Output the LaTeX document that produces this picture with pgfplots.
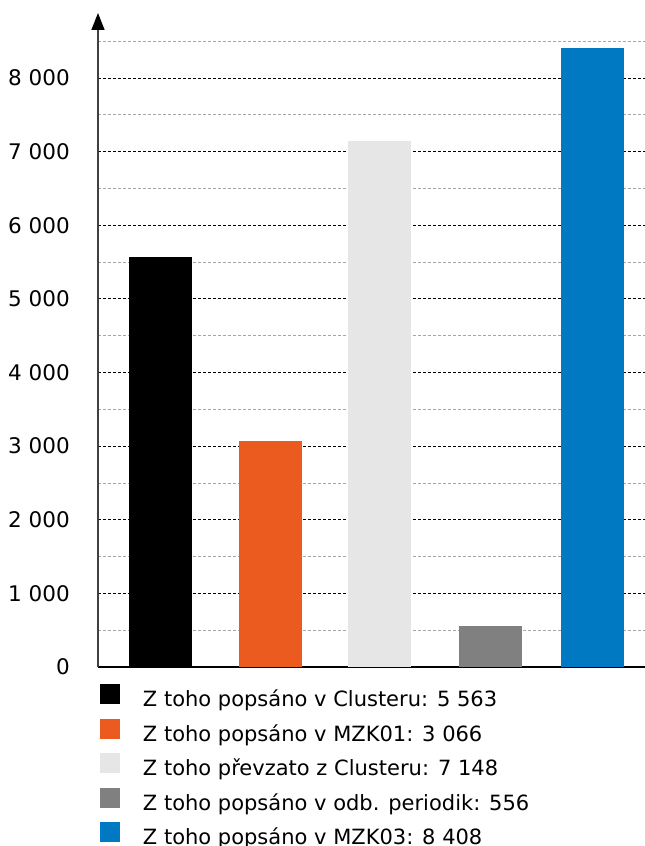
\documentclass[border=0pt]{standalone}
\usepackage{pgfplots}
\pgfplotsset{compat=1.18}
\usepackage{fontspec}
\setmainfont{DejaVu Sans}
\usetikzlibrary{arrows.meta,calc}

\definecolor{cOrange}{HTML}{EB5A1E}
\definecolor{cLight}{HTML}{E6E6E6}
\definecolor{cGrey}{HTML}{808080}
\definecolor{cBlue}{HTML}{0079C2}

\begin{document}
\begin{tikzpicture}
\begin{axis}[
  name=ax,
  scale only axis, width=547bp, height=654bp,
  xmin=98, xmax=645, ymin=0, ymax=8883,
  axis x line*=bottom, axis y line*=left,
  x axis line style={-, line width=1.5bp, black},
  y axis line style={-{Triangle[width=13bp,length=17bp,color=black]}, line width=1.5bp, black!75},
  xtick=\empty,
  ytick={0,1000,...,8000},
  minor ytick={500,1500,...,8500},
  major tick length=0pt, minor tick length=0pt,
  ymajorgrids, yminorgrids,
  major grid style={black, dash pattern=on 3bp off 2bp, line width=0.8bp},
  minor grid style={black!35, dash pattern=on 3bp off 2bp, line width=0.8bp},
  yticklabel style={anchor=east, inner sep=0pt, xshift=-28bp, font=\fontsize{21.5bp}{25bp}\selectfont},
  /pgf/number format/1000 sep={\ },
  /pgf/number format/assume math mode=true,
  legend cell align=left,
  legend image code/.code={\fill[#1,draw=none] (0bp,-3bp) rectangle (20bp,17bp);},
  legend style={draw=none, fill=none, inner sep=0pt, outer sep=0pt,
    row sep=7bp, column sep=23bp,
    at={(axis description cs:0,0)}, anchor=north west, xshift=2bp, yshift=-17bp,
    font=\fontsize{21bp}{25bp}\selectfont,
    nodes={inner sep=0pt, text height=16bp, text depth=5bp}},
]
\addplot[ybar, bar width=63, bar shift=0pt, fill=black, draw=none] coordinates {(160.5,5563)};
\addlegendentry{Z toho popsáno v Clusteru: 5 563}
\addplot[ybar, bar width=63, bar shift=0pt, fill=cOrange, draw=none] coordinates {(270.5,3066)};
\addlegendentry{Z toho popsáno v MZK01: 3 066}
\addplot[ybar, bar width=63, bar shift=0pt, fill=cLight, draw=none] coordinates {(379.5,7148)};
\addlegendentry{Z toho převzato z Clusteru: 7 148}
\addplot[ybar, bar width=63, bar shift=0pt, fill=cGrey, draw=none] coordinates {(490.5,556)};
\addlegendentry{Z toho popsáno v odb. periodik: 556}
\addplot[ybar, bar width=63, bar shift=0pt, fill=cBlue, draw=none] coordinates {(592.5,8408)};
\addlegendentry{Z toho popsáno v MZK03: 8 408}
\end{axis}
\pgfresetboundingbox
\path[use as bounding box] ($(ax.south west)+(-98bp,-179bp)$) rectangle ($(ax.north east)+(0bp,13bp)$);
\end{tikzpicture}
\end{document}
